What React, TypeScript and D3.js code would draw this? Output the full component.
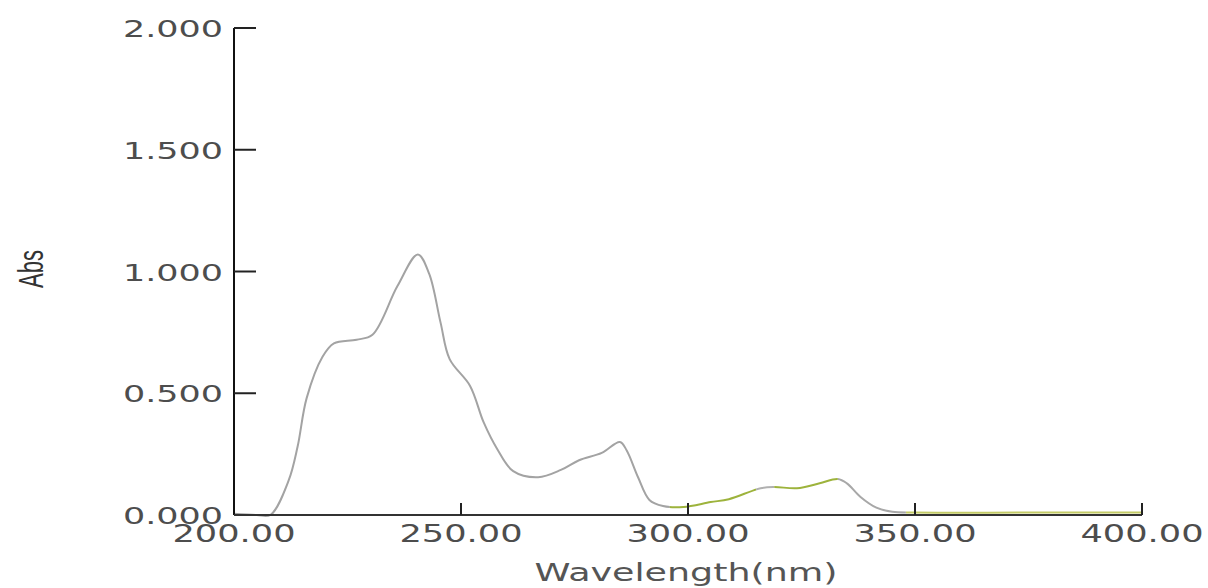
import * as d3 from 'd3';

// spectrum
const wavelengths = [
  200, 205, 208, 212, 214, 216, 219.5, 222, 227, 230.5, 236, 240.5, 243, 245.5, 247.5, 252, 255, 258,
  261.5, 267, 272, 276, 281, 285, 286.5, 289, 291.5, 294.5, 299, 305, 309, 316, 319, 324, 329, 333,
  335, 338, 341.5, 345, 350, 375, 400,
];
const absValues = [
  0.005, 0.0, 0.0, 0.14, 0.28, 0.48, 0.65, 0.705, 0.72, 0.74, 0.94, 1.07, 0.99, 0.79, 0.64, 0.53, 0.38,
  0.27, 0.18, 0.155, 0.185, 0.225, 0.255, 0.3, 0.265, 0.155, 0.062, 0.037, 0.033, 0.053, 0.065, 0.11,
  0.115, 0.11, 0.13, 0.148, 0.13, 0.074, 0.03, 0.013, 0.01, 0.01, 0.01,
];
const xTicks = [200, 250, 300, 350, 400];
const yTicks = [0, 0.5, 1, 1.5, 2];
// colour of the trace over wavelength ranges
const segStart = [200, 296, 315, 319, 333, 348];
const segEnd = [296, 315, 319, 333, 348, 400];
const segColor = ['#a3a3a3', '#9db33c', '#b0b0b0', '#9db33c', '#a8a8a8', '#c3cb66'];

const W = 1208;
const H = 588;

export default function App() {
  const x = d3.scaleLinear().domain([200, 400]).range([234, 1142]);
  const y = d3.scaleLinear().domain([0, 2]).range([515, 28]);

  const points: [number, number][] = wavelengths.map((w, i) => [w, absValues[i]]);
  const line = d3
    .line<[number, number]>()
    .x(d => x(d[0]))
    .y(d => Math.min(y(0), y(d[1])))
    .curve(d3.curveCatmullRom.alpha(0.5));
  const path = line(points) || '';

  return (
    <svg
      width={W}
      height={H}
      style={{ position: 'absolute', left: 0, top: 0, background: '#fff' }}
      fontFamily="'DejaVu Sans', Verdana, sans-serif"
    >
      <defs>
        {segStart.map((s, i) => (
          <clipPath id={`seg${i}`} key={i}>
            <rect x={x(s)} y={0} width={x(segEnd[i]) - x(s)} height={H} />
          </clipPath>
        ))}
      </defs>

      {segStart.map((_, i) => (
        <path
          key={i}
          d={path}
          fill="none"
          stroke={segColor[i]}
          strokeWidth={2}
          clipPath={`url(#seg${i})`}
        />
      ))}

      {/* y axis */}
      <line x1={x(200)} x2={x(200)} y1={y(2)} y2={y(0)} stroke="#111" strokeWidth={2} />
      {yTicks.map(t => (
        <g key={t}>
          <line x1={x(200)} x2={x(200) + 22} y1={y(t)} y2={y(t)} stroke="#222" strokeWidth={2} />
          <text
            x={223}
            y={y(t) + 9}
            textAnchor="end"
            fontSize={23}
            fill="#4d4d4d"
            textLength={100}
            lengthAdjust="spacingAndGlyphs"
          >
            {t.toFixed(3)}
          </text>
        </g>
      ))}

      {/* x axis */}
      <line x1={x(200)} x2={x(400)} y1={y(0)} y2={y(0)} stroke="#333" strokeWidth={2} />
      {xTicks.map(t => (
        <g key={t}>
          {t > 200 && (
            <line x1={x(t)} x2={x(t)} y1={y(0)} y2={y(0) - 12} stroke="#222" strokeWidth={2} />
          )}
          <text
            x={x(t)}
            y={542}
            textAnchor="middle"
            fontSize={24}
            fill="#4d4d4d"
            textLength={123}
            lengthAdjust="spacingAndGlyphs"
          >
            {t.toFixed(2)}
          </text>
        </g>
      ))}

      <text
        x={686}
        y={581}
        textAnchor="middle"
        fontSize={24}
        fill="#555"
        textLength={303}
        lengthAdjust="spacingAndGlyphs"
      >
        Wavelength(nm)
      </text>

      <text
        transform="translate(43,269) rotate(-90)"
        textAnchor="middle"
        fontSize={35}
        fontFamily="'Liberation Sans Narrow', 'Liberation Sans', Arial, sans-serif"
        fill="#333"
        textLength={38}
        lengthAdjust="spacingAndGlyphs"
      >
        Abs
      </text>
    </svg>
  );
}
